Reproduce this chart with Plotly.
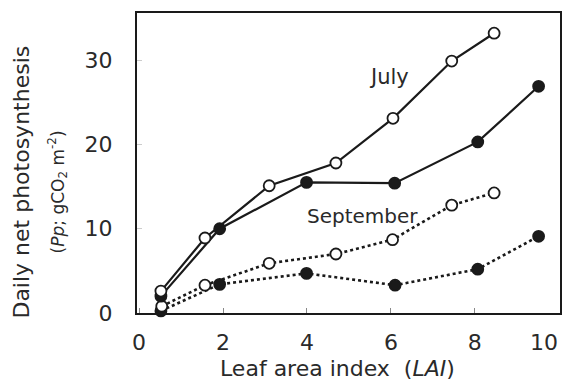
import plotly.graph_objects as go

# Data
lai_july_open = [0.52, 1.57, 3.10, 4.69, 6.05, 7.45, 8.46]
pp_july_open = [2.6, 8.9, 15.1, 17.8, 23.1, 29.9, 33.2]
lai_july_fill = [0.52, 1.92, 3.99, 6.09, 8.07, 9.52]
pp_july_fill = [2.0, 10.0, 15.5, 15.4, 20.3, 26.9]
lai_sep_open = [0.54, 1.57, 3.10, 4.69, 6.04, 7.45, 8.46]
pp_sep_open = [0.8, 3.3, 5.9, 7.0, 8.7, 12.8, 14.25]
lai_sep_fill = [0.52, 1.92, 3.99, 6.10, 8.07, 9.52]
pp_sep_fill = [0.25, 3.4, 4.7, 3.3, 5.2, 9.1]

x_ticks = [0, 2, 4, 6, 8]
y_ticks = [0, 10, 20, 30]

FONT = "DejaVu Sans"
TXT = "#2a2a2a"
INK = "#1a1a1a"

fig = go.Figure()

def add(x, y, filled, dash):
    fig.add_trace(go.Scatter(
        x=x, y=y, mode="lines+markers",
        line=dict(color=INK, width=2.2 if dash == "solid" else 2.6, dash=dash),
        marker=dict(size=11, symbol="circle",
                    color=INK if filled else "white",
                    line=dict(color=INK, width=1.8)),
        showlegend=False, cliponaxis=False))

add(lai_sep_fill, pp_sep_fill, True, "dot")
add(lai_sep_open, pp_sep_open, False, "dot")
add(lai_july_fill, pp_july_fill, True, "solid")
add(lai_july_open, pp_july_open, False, "solid")

fig.add_annotation(x=5.96, y=28.0, text="July", showarrow=False,
                   font=dict(family=FONT, size=21, color=TXT))
fig.add_annotation(x=5.32, y=11.55, text="September", showarrow=False,
                   font=dict(family=FONT, size=20, color=TXT))

# "10" tick label at right end
fig.add_annotation(x=10.03, y=0, xref="x", yref="paper", text="10",
                   showarrow=False, xanchor="right", yanchor="top", yshift=-15,
                   font=dict(family=FONT, size=22, color=TXT))

# axis titles
fig.add_annotation(xref="paper", yref="paper", x=(338 - 137) / 425, y=(313 - 368) / 300,
                   text="Leaf area index  (<i>LAI</i>)", showarrow=False,
                   xanchor="center", yanchor="middle",
                   font=dict(family=FONT, size=22, color=TXT))
fig.add_annotation(xref="paper", yref="paper", x=(20 - 137) / 425, y=(313 - 182) / 300,
                   text="Daily net photosynthesis", showarrow=False, textangle=-90,
                   xanchor="center", yanchor="middle",
                   font=dict(family=FONT, size=22, color=TXT))
fig.add_annotation(xref="paper", yref="paper", x=(57 - 137) / 425, y=(313 - 192) / 300,
                   text="(<i>Pp</i>; gCO<sub>2</sub> m<sup>-2</sup>)", showarrow=False,
                   textangle=-90, xanchor="center", yanchor="middle",
                   font=dict(family=FONT, size=17, color=TXT))

fig.update_layout(
    width=565, height=383,
    margin=dict(l=137, r=3, t=13, b=70),
    paper_bgcolor="white", plot_bgcolor="white",
    font=dict(family=FONT, size=22, color=TXT),
    xaxis=dict(range=[-0.05, 10.03], tickvals=x_ticks, ticks="inside", ticklen=5,
               tickcolor="#888", showgrid=False, zeroline=False, showline=True,
               linecolor=INK, linewidth=2, mirror=True, ticklabelstandoff=9),
    yaxis=dict(range=[0, 35.6], tickvals=y_ticks, ticks="inside", ticklen=5,
               tickcolor="#ccc", showgrid=False, zeroline=False, showline=True,
               linecolor=INK, linewidth=2, mirror=True, ticklabelstandoff=18),
)

fig.write_html("out.html")
